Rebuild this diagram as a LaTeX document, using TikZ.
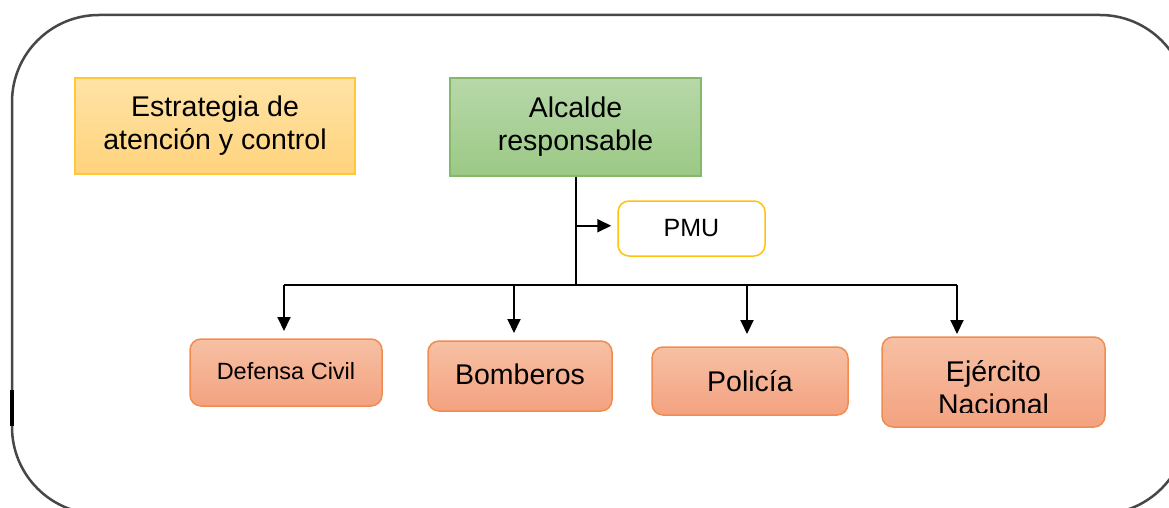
\documentclass[tikz,border=0pt]{standalone}
\usepackage{fontspec}
\setmainfont{Liberation Sans}
\usetikzlibrary{arrows.meta}
\definecolor{yeltop}{HTML}{FFE3A6}
\definecolor{yelbot}{HTML}{FFD37C}
\definecolor{yelline}{HTML}{FFC83A}
\definecolor{grntop}{HTML}{B7D8A9}
\definecolor{grnbot}{HTML}{9CC986}
\definecolor{grnline}{HTML}{84B96C}
\definecolor{ortop}{HTML}{F7C0A4}
\definecolor{orbot}{HTML}{F3A280}
\definecolor{orline}{HTML}{F08C50}
\definecolor{pmuline}{HTML}{FFC20E}
\tikzset{
	txt/.style={align=center, inner sep=0pt, font=\fontsize{28.5}{33}\selectfont}, % all box texts
	yelbox/.style={txt, draw=yelline, line width=1.5pt, top color=yeltop, bottom color=yelbot},
	grnbox/.style={txt, draw=grnline, line width=1.5pt, top color=grntop, bottom color=grnbot},
	orbox/.style={txt, draw=orline, line width=1.5pt, rounded corners=11pt, top color=ortop, bottom color=orbot},
	pmubox/.style={txt, draw=pmuline, line width=1.5pt, rounded corners=11pt, fill=white, font=\fontsize{25}{30}\selectfont},
	line/.style={line width=2pt, black},
	arr/.style={line, -{Triangle[length=14pt,width=13pt]}},
	frame/.style={draw=black!72, line width=2.5pt, rounded corners=87pt},
}
\begin{document}
\begin{tikzpicture}[x=1pt,y=-1pt]
	\useasboundingbox (0,0) rectangle (1169,508);
	% outer frame
	\begin{scope}
		\clip (0,0) rectangle (1169,508);
		\draw[frame] (12,15) rectangle (1187,514);
	\end{scope}
	\draw[line width=4pt] (12,390) -- (12,426);
	
	\node[yelbox, minimum width=280pt, minimum height=96pt] (estr) at (215,126) {Estrategia de\\atención y control};
	\node[grnbox, minimum width=251pt, minimum height=98pt] (alc) at (575.5,127) {Alcalde\\responsable};
	\node[pmubox, minimum width=147pt, minimum height=55pt] (pmu) at (691.5,228.5) {PMU};
	
	\node[orbox, minimum width=192pt, minimum height=67pt, font=\fontsize{23.5}{28}\selectfont] (def) at (286,372.5) {\raisebox{3pt}{Defensa Civil}};
	\node[orbox, minimum width=184pt, minimum height=70pt] (bom) at (520,376) {\raisebox{3pt}{Bomberos}};
	\node[orbox, minimum width=196pt, minimum height=68pt] (pol) at (750,381) {Policía};
	\node[orbox, minimum width=223pt, minimum height=90pt] (eje) at (993.5,382) {};
	\begin{scope}
		\clip (eje.north west) rectangle ([yshift=15pt]eje.south east);
		\node[txt] (ejetxt) at ([yshift=-6pt]eje.center) {Ejército\\Nacional};
	\end{scope}
	
	% connectors
	\path (alc.south) ++(0,108) coordinate (bus);
	\path (alc.south) ++(0,49) coordinate (pm);
	\coordinate (t1) at (284,331);
	\coordinate (t2) at (514,333);
	\coordinate (t3) at (747,334);
	\coordinate (t4) at (957,334);
	\draw[line] (alc.south) -- (bus);
	\draw[arr] (pm) -- ([xshift=-6pt]pmu.west |- pm);
	\draw[line] (t1 |- bus) -- (t4 |- bus);
	\foreach \t in {t1,t2,t3,t4}
		\draw[arr] (\t |- bus) -- (\t);
\end{tikzpicture}
\end{document}
